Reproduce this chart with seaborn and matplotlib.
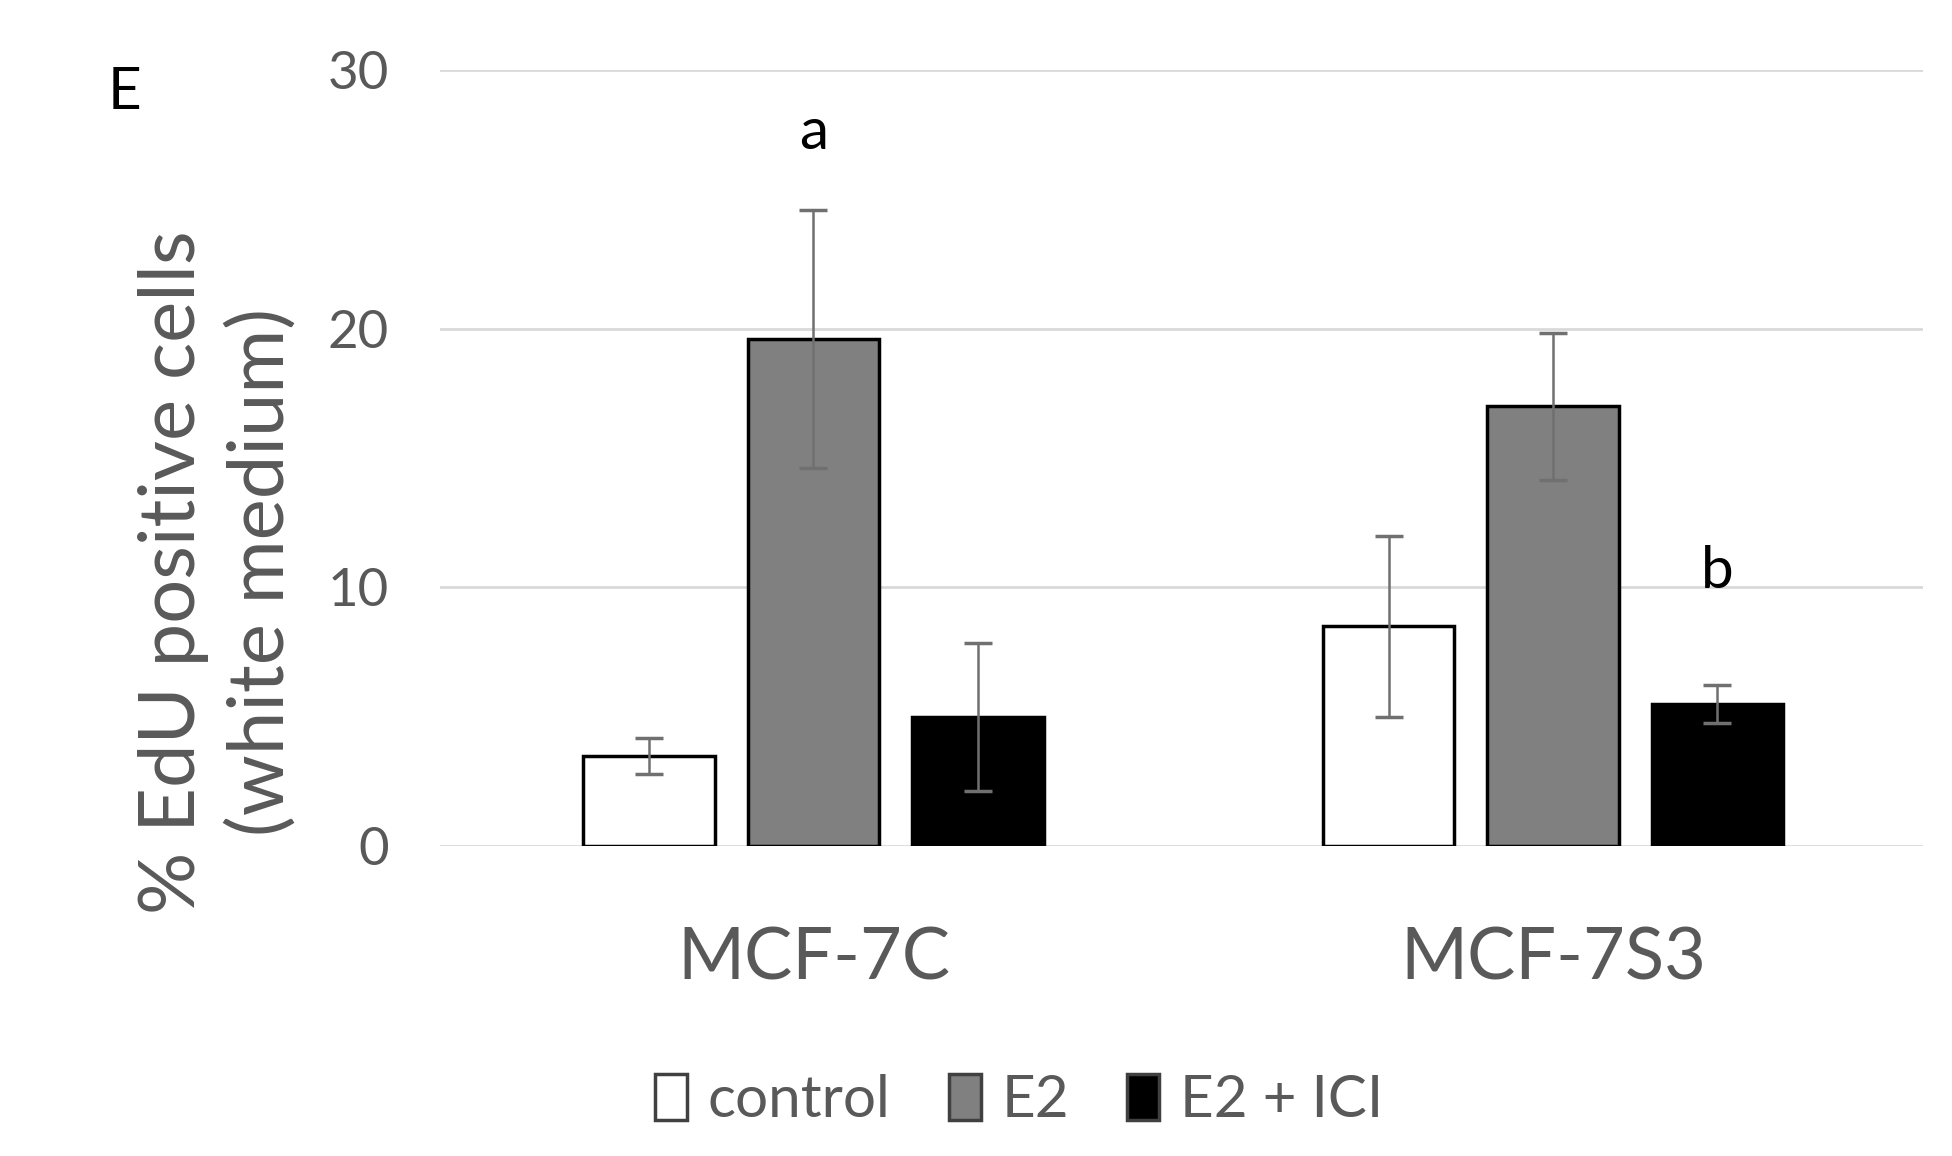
import numpy as np
import pandas as pd
import matplotlib
matplotlib.use("Agg")
import matplotlib.pyplot as plt
from matplotlib.patches import Patch
import seaborn as sns

# values
cell_lines = ["MCF-7C", "MCF-7S3"]
treatments = ["control", "E2", "E2 + ICI"]
control_mean = [3.5, 8.5]
e2_mean = [19.6, 17.0]
ici_mean = [5.0, 5.5]
control_err = [0.7, 3.5]
e2_err = [5.0, 2.85]
ici_err = [2.85, 0.72]
# significance letters and the height they sit at
letters = {("MCF-7C", "E2"): ("a", 27.6), ("MCF-7S3", "E2 + ICI"): ("b", 10.6)}
yticks = [0, 10, 20, 30]

rows = []
for i, line in enumerate(cell_lines):
    for trt, m, e in zip(treatments, [control_mean, e2_mean, ici_mean],
                         [control_err, e2_err, ici_err]):
        rows.append({"line": line, "treatment": trt, "pct": m[i], "err": e[i]})
df = pd.DataFrame(rows)

sns.set_style("white")
plt.rcParams["font.family"] = ["Lato", "DejaVu Sans"]
grey_txt = "#595959"
palette = {"control": "white", "E2": "#808080", "E2 + ICI": "black"}

fig = plt.figure(figsize=(19.52, 11.56), dpi=100)
ax = fig.add_axes([0.2254, 0.268, 0.7596, 0.6714])

sns.barplot(data=df, x="line", y="pct", hue="treatment", order=cell_lines,
            hue_order=treatments, palette=palette, width=0.667, gap=0.2,
            edgecolor="black", linewidth=2.5, errorbar=None, legend=False, ax=ax)

# error bars and letters on each bar
for container, trt in zip(ax.containers, treatments):
    for bar, line in zip(container, cell_lines):
        row = df[(df.line == line) & (df.treatment == trt)].iloc[0]
        cx = bar.get_x() + bar.get_width() / 2
        ax.errorbar(cx, row.pct, yerr=row.err, color="#707070", elinewidth=1.8,
                    capsize=10, capthick=2.5, zorder=5)
        if (line, trt) in letters:
            txt, ypos = letters[(line, trt)]
            ax.text(cx, ypos, txt, ha="center", va="center", fontsize=42,
                    color="black")

ax.set_xlim(-0.505, 1.5)
ax.set_ylim(0, 30)
ax.set_yticks(yticks)
ax.yaxis.grid(True, color="#d9d9d9", linewidth=2)
ax.set_axisbelow(True)
sns.despine(ax=ax, left=True, bottom=True, top=True, right=True)
ax.tick_params(axis="y", length=0, pad=37, labelsize=38, labelcolor=grey_txt)
ax.tick_params(axis="x", length=0, pad=58, labelsize=52, labelcolor=grey_txt)
ax.set_xlabel("")
ax.set_ylabel("% EdU positive cells\n(white medium)", fontsize=56,
              color=grey_txt, linespacing=1.3)
ax.yaxis.set_label_coords(-0.096, 0.353)

fig.text(0.064, 0.92, "E", fontsize=42, color="black", ha="center", va="center")

handles = [Patch(facecolor=palette[t], edgecolor="#404040", linewidth=2.5, label=t)
           for t in treatments]
fig.legend(handles=handles, loc="center", bbox_to_anchor=(0.522, 0.048), ncol=3,
           frameon=False, fontsize=42, labelcolor=grey_txt, handlelength=0.55,
           handleheight=0.85, handletextpad=0.35, columnspacing=1.0)

fig.savefig("out.png", dpi=100)
